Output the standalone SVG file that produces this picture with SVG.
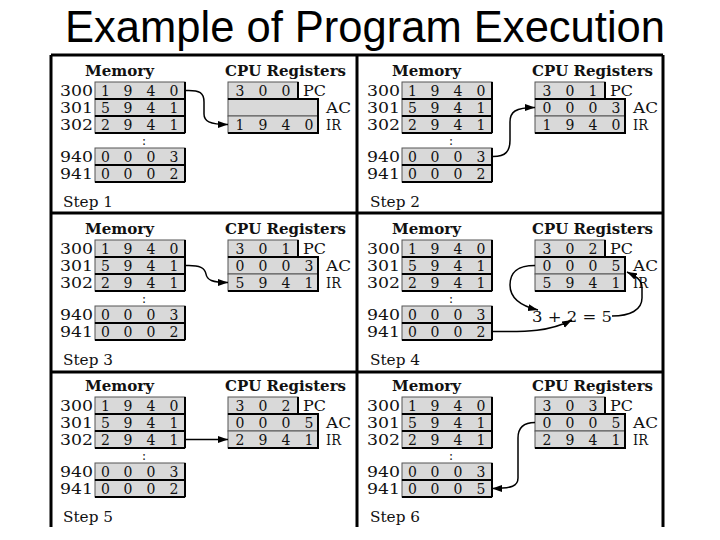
<svg xmlns="http://www.w3.org/2000/svg" width="720" height="540" viewBox="0 0 720 540">
<style>
.title{font-family:"Liberation Sans",Arial,sans-serif;font-size:44px;fill:#000}
.hd{font-family:"DejaVu Serif","Liberation Serif",serif;font-weight:bold;font-size:15px;text-anchor:middle;fill:#111}
.t{font-family:"DejaVu Serif","Liberation Serif",serif;font-size:14px;fill:#111}
.dg{text-anchor:middle}
.ad{text-anchor:end}
.cl{font-size:12px;text-anchor:middle}
.box{fill:#d9d9d9;stroke:#555;stroke-width:1}
.sh{fill:none;stroke:#000;stroke-width:2}
.frame{fill:none;stroke:#000;stroke-width:3}
.conn path{fill:none;stroke:#000;stroke-width:1.5;marker-end:url(#ah)}
</style>
<defs>
<marker id="ah" markerWidth="10" markerHeight="8" refX="10" refY="4" orient="auto" markerUnits="userSpaceOnUse">
<path d="M0,0.5 L10,4 L0,7.5 z" fill="#000"/>
</marker>
</defs>
<rect width="720" height="540" fill="#fff"/>
<text class="title" x="65" y="42" textLength="600" lengthAdjust="spacingAndGlyphs">Example of Program Execution</text>
<path class="frame" d="M51,55 H663 M51,55 V527 M663,55 V527 M357,55 V527 M51,213 H663 M51,372 H663"/>

<!-- Step 1 -->
<g id="step1">
<text class="hd" x="119.5" y="76" textLength="69" lengthAdjust="spacingAndGlyphs">Memory</text>
<text class="hd" x="285.5" y="76" textLength="121" lengthAdjust="spacingAndGlyphs">CPU Registers</text>
<rect class="box" x="95" y="82" width="90" height="17"/><rect class="box" x="95" y="99" width="90" height="17"/><rect class="box" x="95" y="116" width="90" height="17"/><rect class="box" x="95" y="148" width="90" height="17"/><rect class="box" x="95" y="165" width="90" height="17"/>
<path class="sh" d="M95,99H185 M95,116H185 M95,133H185 M185,82V133 M95,165H185 M95,182H185 M185,148V182"/>
<rect class="box" x="228" y="82" width="70" height="17"/><rect class="box" x="228" y="99" width="90" height="17"/><rect class="box" x="228" y="116" width="90" height="17"/>
<path class="sh" d="M228,99H298V82 M298,99H318V116 M228,133H318V116"/>
<text class="t ad" x="93" y="95.5" textLength="33" lengthAdjust="spacingAndGlyphs">300</text>
<text class="t ad" x="93" y="112.5" textLength="33" lengthAdjust="spacingAndGlyphs">301</text>
<text class="t ad" x="93" y="129.5" textLength="33" lengthAdjust="spacingAndGlyphs">302</text>
<text class="t cl" x="144" y="145">:</text>
<text class="t ad" x="93" y="161.5" textLength="33" lengthAdjust="spacingAndGlyphs">940</text>
<text class="t ad" x="93" y="178.5" textLength="33" lengthAdjust="spacingAndGlyphs">941</text>
<text class="t dg" x="105.5 128 151 174" y="95.5">1940</text>
<text class="t dg" x="105.5 128 151 174" y="112.5">5941</text>
<text class="t dg" x="105.5 128 151 174" y="129.5">2941</text>
<text class="t dg" x="105.5 128 151 174" y="161.5">0003</text>
<text class="t dg" x="105.5 128 151 174" y="178.5">0002</text>
<text class="t dg" x="240 263 286" y="95.5">300</text>
<text class="t dg" x="240 263 286 309" y="129.5">1940</text>
<text class="t" x="303" y="95.5" textLength="23" lengthAdjust="spacingAndGlyphs">PC</text>
<text class="t" x="326" y="112.5" textLength="25" lengthAdjust="spacingAndGlyphs">AC</text>
<text class="t" x="326" y="129.5" textLength="15" lengthAdjust="spacingAndGlyphs">IR</text>
<text class="t" x="63" y="207" textLength="50" lengthAdjust="spacingAndGlyphs">Step 1</text>
</g>

<!-- Step 2 -->
<g id="step2" transform="translate(307,0)">
<text class="hd" x="119.5" y="76" textLength="69" lengthAdjust="spacingAndGlyphs">Memory</text>
<text class="hd" x="285.5" y="76" textLength="121" lengthAdjust="spacingAndGlyphs">CPU Registers</text>
<rect class="box" x="95" y="82" width="90" height="17"/><rect class="box" x="95" y="99" width="90" height="17"/><rect class="box" x="95" y="116" width="90" height="17"/><rect class="box" x="95" y="148" width="90" height="17"/><rect class="box" x="95" y="165" width="90" height="17"/>
<path class="sh" d="M95,99H185 M95,116H185 M95,133H185 M185,82V133 M95,165H185 M95,182H185 M185,148V182"/>
<rect class="box" x="228" y="82" width="70" height="17"/><rect class="box" x="228" y="99" width="90" height="17"/><rect class="box" x="228" y="116" width="90" height="17"/>
<path class="sh" d="M228,99H298V82 M298,99H318V116 M228,133H318V116"/>
<text class="t ad" x="93" y="95.5" textLength="33" lengthAdjust="spacingAndGlyphs">300</text>
<text class="t ad" x="93" y="112.5" textLength="33" lengthAdjust="spacingAndGlyphs">301</text>
<text class="t ad" x="93" y="129.5" textLength="33" lengthAdjust="spacingAndGlyphs">302</text>
<text class="t cl" x="144" y="145">:</text>
<text class="t ad" x="93" y="161.5" textLength="33" lengthAdjust="spacingAndGlyphs">940</text>
<text class="t ad" x="93" y="178.5" textLength="33" lengthAdjust="spacingAndGlyphs">941</text>
<text class="t dg" x="105.5 128 151 174" y="95.5">1940</text>
<text class="t dg" x="105.5 128 151 174" y="112.5">5941</text>
<text class="t dg" x="105.5 128 151 174" y="129.5">2941</text>
<text class="t dg" x="105.5 128 151 174" y="161.5">0003</text>
<text class="t dg" x="105.5 128 151 174" y="178.5">0002</text>
<text class="t dg" x="240 263 286" y="95.5">301</text>
<text class="t dg" x="240 263 286 309" y="112.5">0003</text>
<text class="t dg" x="240 263 286 309" y="129.5">1940</text>
<text class="t" x="303" y="95.5" textLength="23" lengthAdjust="spacingAndGlyphs">PC</text>
<text class="t" x="326" y="112.5" textLength="25" lengthAdjust="spacingAndGlyphs">AC</text>
<text class="t" x="326" y="129.5" textLength="15" lengthAdjust="spacingAndGlyphs">IR</text>
<text class="t" x="63" y="207" textLength="50" lengthAdjust="spacingAndGlyphs">Step 2</text>
</g>

<!-- Step 3 -->
<g id="step3" transform="translate(0,158)">
<text class="hd" x="119.5" y="76" textLength="69" lengthAdjust="spacingAndGlyphs">Memory</text>
<text class="hd" x="285.5" y="76" textLength="121" lengthAdjust="spacingAndGlyphs">CPU Registers</text>
<rect class="box" x="95" y="82" width="90" height="17"/><rect class="box" x="95" y="99" width="90" height="17"/><rect class="box" x="95" y="116" width="90" height="17"/><rect class="box" x="95" y="148" width="90" height="17"/><rect class="box" x="95" y="165" width="90" height="17"/>
<path class="sh" d="M95,99H185 M95,116H185 M95,133H185 M185,82V133 M95,165H185 M95,182H185 M185,148V182"/>
<rect class="box" x="228" y="82" width="70" height="17"/><rect class="box" x="228" y="99" width="90" height="17"/><rect class="box" x="228" y="116" width="90" height="17"/>
<path class="sh" d="M228,99H298V82 M298,99H318V116 M228,133H318V116"/>
<text class="t ad" x="93" y="95.5" textLength="33" lengthAdjust="spacingAndGlyphs">300</text>
<text class="t ad" x="93" y="112.5" textLength="33" lengthAdjust="spacingAndGlyphs">301</text>
<text class="t ad" x="93" y="129.5" textLength="33" lengthAdjust="spacingAndGlyphs">302</text>
<text class="t cl" x="144" y="145">:</text>
<text class="t ad" x="93" y="161.5" textLength="33" lengthAdjust="spacingAndGlyphs">940</text>
<text class="t ad" x="93" y="178.5" textLength="33" lengthAdjust="spacingAndGlyphs">941</text>
<text class="t dg" x="105.5 128 151 174" y="95.5">1940</text>
<text class="t dg" x="105.5 128 151 174" y="112.5">5941</text>
<text class="t dg" x="105.5 128 151 174" y="129.5">2941</text>
<text class="t dg" x="105.5 128 151 174" y="161.5">0003</text>
<text class="t dg" x="105.5 128 151 174" y="178.5">0002</text>
<text class="t dg" x="240 263 286" y="95.5">301</text>
<text class="t dg" x="240 263 286 309" y="112.5">0003</text>
<text class="t dg" x="240 263 286 309" y="129.5">5941</text>
<text class="t" x="303" y="95.5" textLength="23" lengthAdjust="spacingAndGlyphs">PC</text>
<text class="t" x="326" y="112.5" textLength="25" lengthAdjust="spacingAndGlyphs">AC</text>
<text class="t" x="326" y="129.5" textLength="15" lengthAdjust="spacingAndGlyphs">IR</text>
<text class="t" x="63" y="207" textLength="50" lengthAdjust="spacingAndGlyphs">Step 3</text>
</g>

<!-- Step 4 -->
<g id="step4" transform="translate(307,158)">
<text class="hd" x="119.5" y="76" textLength="69" lengthAdjust="spacingAndGlyphs">Memory</text>
<text class="hd" x="285.5" y="76" textLength="121" lengthAdjust="spacingAndGlyphs">CPU Registers</text>
<rect class="box" x="95" y="82" width="90" height="17"/><rect class="box" x="95" y="99" width="90" height="17"/><rect class="box" x="95" y="116" width="90" height="17"/><rect class="box" x="95" y="148" width="90" height="17"/><rect class="box" x="95" y="165" width="90" height="17"/>
<path class="sh" d="M95,99H185 M95,116H185 M95,133H185 M185,82V133 M95,165H185 M95,182H185 M185,148V182"/>
<rect class="box" x="228" y="82" width="70" height="17"/><rect class="box" x="228" y="99" width="90" height="17"/><rect class="box" x="228" y="116" width="90" height="17"/>
<path class="sh" d="M228,99H298V82 M298,99H318V116 M228,133H318V116"/>
<text class="t ad" x="93" y="95.5" textLength="33" lengthAdjust="spacingAndGlyphs">300</text>
<text class="t ad" x="93" y="112.5" textLength="33" lengthAdjust="spacingAndGlyphs">301</text>
<text class="t ad" x="93" y="129.5" textLength="33" lengthAdjust="spacingAndGlyphs">302</text>
<text class="t cl" x="144" y="145">:</text>
<text class="t ad" x="93" y="161.5" textLength="33" lengthAdjust="spacingAndGlyphs">940</text>
<text class="t ad" x="93" y="178.5" textLength="33" lengthAdjust="spacingAndGlyphs">941</text>
<text class="t dg" x="105.5 128 151 174" y="95.5">1940</text>
<text class="t dg" x="105.5 128 151 174" y="112.5">5941</text>
<text class="t dg" x="105.5 128 151 174" y="129.5">2941</text>
<text class="t dg" x="105.5 128 151 174" y="161.5">0003</text>
<text class="t dg" x="105.5 128 151 174" y="178.5">0002</text>
<text class="t dg" x="240 263 286" y="95.5">302</text>
<text class="t dg" x="240 263 286 309" y="112.5">0005</text>
<text class="t dg" x="240 263 286 309" y="129.5">5941</text>
<text class="t" x="303" y="95.5" textLength="23" lengthAdjust="spacingAndGlyphs">PC</text>
<text class="t" x="326" y="112.5" textLength="25" lengthAdjust="spacingAndGlyphs">AC</text>
<text class="t" x="326" y="129.5" textLength="15" lengthAdjust="spacingAndGlyphs">IR</text>
<text class="t" x="225" y="163.5" font-size="15" textLength="80" lengthAdjust="spacingAndGlyphs">3 + 2 = 5</text>
<text class="t" x="63" y="207" textLength="50" lengthAdjust="spacingAndGlyphs">Step 4</text>
</g>

<!-- Step 5 -->
<g id="step5" transform="translate(0,315)">
<text class="hd" x="119.5" y="76" textLength="69" lengthAdjust="spacingAndGlyphs">Memory</text>
<text class="hd" x="285.5" y="76" textLength="121" lengthAdjust="spacingAndGlyphs">CPU Registers</text>
<rect class="box" x="95" y="82" width="90" height="17"/><rect class="box" x="95" y="99" width="90" height="17"/><rect class="box" x="95" y="116" width="90" height="17"/><rect class="box" x="95" y="148" width="90" height="17"/><rect class="box" x="95" y="165" width="90" height="17"/>
<path class="sh" d="M95,99H185 M95,116H185 M95,133H185 M185,82V133 M95,165H185 M95,182H185 M185,148V182"/>
<rect class="box" x="228" y="82" width="70" height="17"/><rect class="box" x="228" y="99" width="90" height="17"/><rect class="box" x="228" y="116" width="90" height="17"/>
<path class="sh" d="M228,99H298V82 M298,99H318V116 M228,133H318V116"/>
<text class="t ad" x="93" y="95.5" textLength="33" lengthAdjust="spacingAndGlyphs">300</text>
<text class="t ad" x="93" y="112.5" textLength="33" lengthAdjust="spacingAndGlyphs">301</text>
<text class="t ad" x="93" y="129.5" textLength="33" lengthAdjust="spacingAndGlyphs">302</text>
<text class="t cl" x="144" y="145">:</text>
<text class="t ad" x="93" y="161.5" textLength="33" lengthAdjust="spacingAndGlyphs">940</text>
<text class="t ad" x="93" y="178.5" textLength="33" lengthAdjust="spacingAndGlyphs">941</text>
<text class="t dg" x="105.5 128 151 174" y="95.5">1940</text>
<text class="t dg" x="105.5 128 151 174" y="112.5">5941</text>
<text class="t dg" x="105.5 128 151 174" y="129.5">2941</text>
<text class="t dg" x="105.5 128 151 174" y="161.5">0003</text>
<text class="t dg" x="105.5 128 151 174" y="178.5">0002</text>
<text class="t dg" x="240 263 286" y="95.5">302</text>
<text class="t dg" x="240 263 286 309" y="112.5">0005</text>
<text class="t dg" x="240 263 286 309" y="129.5">2941</text>
<text class="t" x="303" y="95.5" textLength="23" lengthAdjust="spacingAndGlyphs">PC</text>
<text class="t" x="326" y="112.5" textLength="25" lengthAdjust="spacingAndGlyphs">AC</text>
<text class="t" x="326" y="129.5" textLength="15" lengthAdjust="spacingAndGlyphs">IR</text>
<text class="t" x="63" y="207" textLength="50" lengthAdjust="spacingAndGlyphs">Step 5</text>
</g>

<!-- Step 6 -->
<g id="step6" transform="translate(307,315)">
<text class="hd" x="119.5" y="76" textLength="69" lengthAdjust="spacingAndGlyphs">Memory</text>
<text class="hd" x="285.5" y="76" textLength="121" lengthAdjust="spacingAndGlyphs">CPU Registers</text>
<rect class="box" x="95" y="82" width="90" height="17"/><rect class="box" x="95" y="99" width="90" height="17"/><rect class="box" x="95" y="116" width="90" height="17"/><rect class="box" x="95" y="148" width="90" height="17"/><rect class="box" x="95" y="165" width="90" height="17"/>
<path class="sh" d="M95,99H185 M95,116H185 M95,133H185 M185,82V133 M95,165H185 M95,182H185 M185,148V182"/>
<rect class="box" x="228" y="82" width="70" height="17"/><rect class="box" x="228" y="99" width="90" height="17"/><rect class="box" x="228" y="116" width="90" height="17"/>
<path class="sh" d="M228,99H298V82 M298,99H318V116 M228,133H318V116"/>
<text class="t ad" x="93" y="95.5" textLength="33" lengthAdjust="spacingAndGlyphs">300</text>
<text class="t ad" x="93" y="112.5" textLength="33" lengthAdjust="spacingAndGlyphs">301</text>
<text class="t ad" x="93" y="129.5" textLength="33" lengthAdjust="spacingAndGlyphs">302</text>
<text class="t cl" x="144" y="145">:</text>
<text class="t ad" x="93" y="161.5" textLength="33" lengthAdjust="spacingAndGlyphs">940</text>
<text class="t ad" x="93" y="178.5" textLength="33" lengthAdjust="spacingAndGlyphs">941</text>
<text class="t dg" x="105.5 128 151 174" y="95.5">1940</text>
<text class="t dg" x="105.5 128 151 174" y="112.5">5941</text>
<text class="t dg" x="105.5 128 151 174" y="129.5">2941</text>
<text class="t dg" x="105.5 128 151 174" y="161.5">0003</text>
<text class="t dg" x="105.5 128 151 174" y="178.5">0005</text>
<text class="t dg" x="240 263 286" y="95.5">303</text>
<text class="t dg" x="240 263 286 309" y="112.5">0005</text>
<text class="t dg" x="240 263 286 309" y="129.5">2941</text>
<text class="t" x="303" y="95.5" textLength="23" lengthAdjust="spacingAndGlyphs">PC</text>
<text class="t" x="326" y="112.5" textLength="25" lengthAdjust="spacingAndGlyphs">AC</text>
<text class="t" x="326" y="129.5" textLength="15" lengthAdjust="spacingAndGlyphs">IR</text>
<text class="t" x="63" y="207" textLength="50" lengthAdjust="spacingAndGlyphs">Step 6</text>
</g>

<!-- Connectors -->
<g id="connectors" class="conn">
<path d="M186,90.5 C200,90 204,93 204,102 L204,114 C204,121 209,124.5 228,124.5"/>
<path d="M493,156.5 C506,156.5 510,151 510,140 L510,122 C510,112 515,107.5 535,107.5"/>
<path d="M186,265.5 C200,265 205,268 206,274 C207,280 212,282.5 228,282.5"/>
<path d="M535,265.5 C515,265.5 510,274 510,285 C510,298 521,306 538,310"/>
<path d="M493,331.5 C520,331.5 547,333 572,320"/>
<path d="M612,316 C630,316 642,310 642,298 L642,288 C642,280 637,277 627,272"/>
<path d="M186,439.5 L228,439.5"/>
<path d="M535,422.5 C523,422.5 518,428 518,438 L518,478 C518,486 512,488.5 492,488.5"/>
</g>
</svg>
